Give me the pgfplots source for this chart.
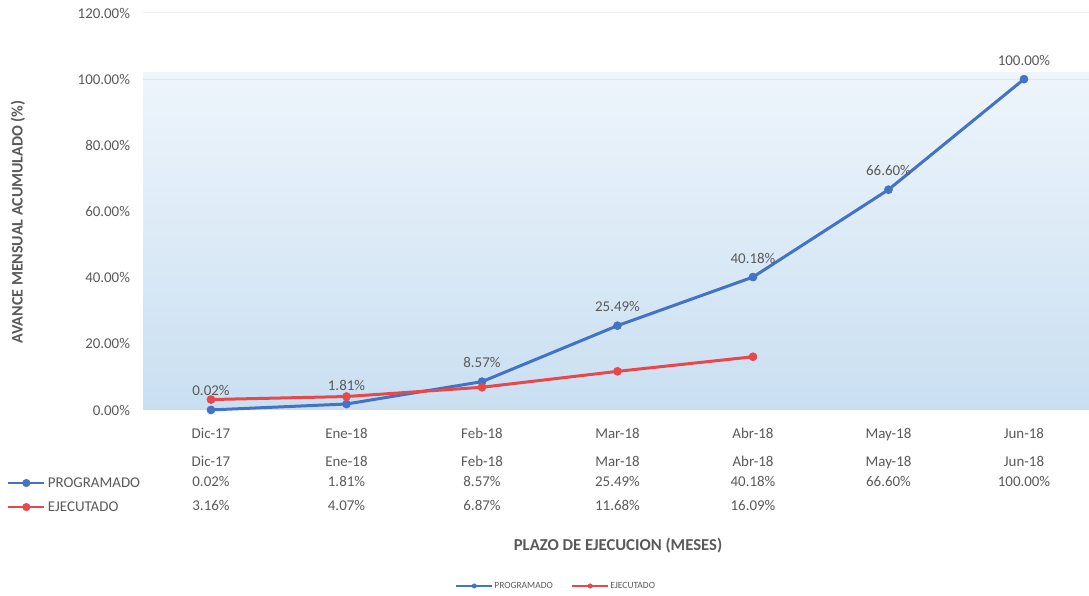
\documentclass[border=0pt]{standalone}
\usepackage{fontspec}
\setmainfont{Carlito}
\usepackage{pgfplots}
\pgfplotsset{compat=1.18}
\definecolor{progblue}{HTML}{4472C4}
\definecolor{ejecred}{HTML}{E8474C}
\definecolor{txtgray}{HTML}{595959}
\definecolor{bgtop}{HTML}{EEF5FB}
\definecolor{bgmid}{HTML}{DCEBF7}
\definecolor{bgbot}{HTML}{C9DFF1}
\newcommand{\mainfs}{\fontsize{11.2pt}{13pt}\selectfont}
\begin{document}
\begin{tikzpicture}
\begin{axis}[
  at={(0,0)}, anchor=south west,
  scale only axis, width=709.31pt, height=297.75pt,
  xmin=-0.5, xmax=6.48, ymin=0, ymax=120,
  clip=false, set layers,
  axis line style={draw=none}, major tick length=0pt,
  xtick={0,...,6},
  xticklabels={Dic-17,Ene-18,Feb-18,Mar-18,Abr-18,May-18,Jun-18},
  ytick={0,20,...,120},
  yticklabels={0.00\%,20.00\%,40.00\%,60.00\%,80.00\%,100.00\%,120.00\%},
  tick label style={font=\mainfs, text=txtgray},
  xticklabel style={anchor=center, inner sep=0pt, text height=7.6pt, text depth=2.4pt, yshift=-19.1pt},
  yticklabel style={anchor=east, inner sep=0pt, xshift=-9.75pt},
  legend columns=2,
  legend style={at={(0.4364,-0.4433)}, anchor=center, draw=none, fill=none,
    font=\fontsize{7.1pt}{8pt}\selectfont, text=txtgray,
    nodes={inner sep=1pt},
    /tikz/every even column/.append style={column sep=13pt}},
  legend image code/.code={\draw[#1, line width=1.1pt, mark size=1.6pt, mark repeat=2, mark phase=2] plot coordinates {(0pt,0pt)(13.5pt,0pt)(27pt,0pt)};},
  /pgf/number format/assume math mode=true,
]
\begin{pgfonlayer}{axis background}
\path[top color=bgtop, middle color=bgmid, bottom color=bgbot] (axis cs:-0.5,0) rectangle (axis cs:6.48,102);
\draw[black!10, line width=0.75pt] (axis cs:-0.5,100) -- (axis cs:6.48,100);
\draw[black!6, line width=0.75pt] (axis cs:-0.5,120) -- (axis cs:6.48,120);
\end{pgfonlayer}
\addplot[progblue, line width=2.25pt, mark=*, mark size=3pt,
  mark options={fill=progblue, draw=progblue, line width=0.5pt},
  nodes near coords={\pgfmathprintnumber[fixed,fixed zerofill,precision=2]{\pgfplotspointmeta}\%},
  every node near coord/.append style={font=\mainfs, text=txtgray, anchor=center, yshift=14.25pt, inner sep=0pt}]
  coordinates {(0,0.02) (1,1.81) (2,8.57) (3,25.49) (4,40.18) (5,66.60) (6,100.00)};
\addlegendentry{PROGRAMADO}
\addplot[ejecred, line width=2.25pt, mark=*, mark size=3pt,
  mark options={fill=ejecred, draw=ejecred, line width=0.5pt}]
  coordinates {(0,3.16) (1,4.07) (2,6.87) (3,11.68) (4,16.09)};
\addlegendentry{EJECUTADO}
\end{axis}
\begin{axis}[at={(-102.19pt,-49.58pt)}, anchor=center, scale only axis,
  width=1pt, height=1pt, hide axis, xmin=0, xmax=1, ymin=0, ymax=1,
  legend style={at={(0.5,0.5)}, anchor=north west, draw=none, fill=none,
    inner sep=0pt, row sep=8pt, font=\mainfs, text=txtgray,
    nodes={inner sep=0pt, text height=8pt, text depth=2pt}},
  legend cell align=left,
  legend image code/.code={\draw[#1, mark repeat=2, mark phase=2] plot coordinates {(0pt,0pt)(13.5pt,0pt)(27pt,0pt)};}]
\addlegendimage{progblue, line width=1.6pt, mark=*, mark size=2.2pt}
\addlegendentry{\,PROGRAMADO}
\addlegendimage{ejecred, line width=1.6pt, mark=*, mark size=2.2pt}
\addlegendentry{\,EJECUTADO}
\end{axis}
\begin{scope}[shift={(-107.4375pt,307.5pt)}, x=0.75pt, y=-0.75pt,
  every node/.style={font=\mainfs, text=txtgray, inner sep=0pt}]
  \node[rotate=90, font=\bfseries\fontsize{12pt}{14pt}\selectfont] at (18,222) {AVANCE MENSUAL ACUMULADO (\%)};
  \node[font=\bfseries\fontsize{12.5pt}{14pt}\selectfont, text height=8.5pt, text depth=2.5pt] at (618,546) {PLAZO DE EJECUCION (MESES)};
  \begin{scope}[every node/.append style={text height=7.6pt, text depth=2.4pt, yshift=-1.1pt}]
  \foreach \lab [count=\i from 0] in {Dic-17,Ene-18,Feb-18,Mar-18,Abr-18,May-18,Jun-18}
    \node at (211+135.5*\i,462) {\lab};
  \foreach \v [count=\i from 0] in {0.02\%,1.81\%,8.57\%,25.49\%,40.18\%,66.60\%,100.00\%}
    \node at (211+135.5*\i,482) {\v};
  \foreach \v [count=\i from 0] in {3.16\%,4.07\%,6.87\%,11.68\%,16.09\%}
    \node at (211+135.5*\i,506) {\v};
  \end{scope}
  \pgfresetboundingbox
  \path (0,0) rectangle (1089,596);
\end{scope}
\end{tikzpicture}
\end{document}
